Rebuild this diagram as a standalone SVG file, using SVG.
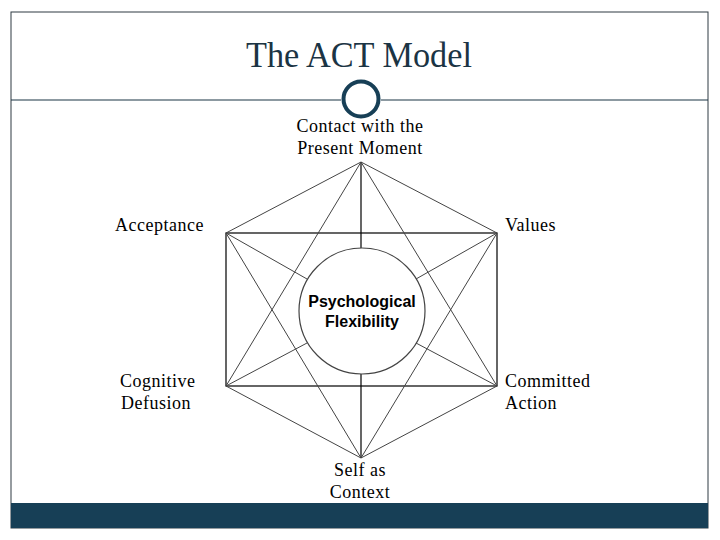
<svg xmlns="http://www.w3.org/2000/svg" width="720" height="540" viewBox="0 0 720 540">
<style>
.lbl{font-family:"Liberation Serif",serif;font-size:18px;letter-spacing:0.5px;fill:#000}
.ctr{text-anchor:middle}
.blk{stroke:#000;stroke-width:1.2;fill:none}
.gry{stroke:#444;stroke-width:1;fill:none}
.pf{font-family:"Liberation Sans",Arial,sans-serif;font-weight:bold;font-size:16px;text-anchor:middle}
</style>
<rect x="0" y="0" width="720" height="540" fill="#fff"/>
<rect x="11" y="12" width="697" height="516" fill="none" stroke="#2e3a42" stroke-width="1"/>
<rect x="11" y="503" width="697" height="25" fill="#173f56"/>
<g id="header">
<text x="359" y="67" text-anchor="middle" font-family="Liberation Serif,serif" font-size="36" fill="#1b3444" textLength="226" lengthAdjust="spacingAndGlyphs">The ACT Model</text>
<line x1="11" y1="100" x2="341" y2="100" stroke="#1b3444" stroke-width="1.2"/>
<line x1="381" y1="100" x2="708" y2="100" stroke="#1b3444" stroke-width="1.2"/>
<circle cx="361" cy="99" r="17.5" fill="#fff" stroke="#173f56" stroke-width="4"/>
</g>
<g id="connectors">
<rect x="226" y="233" width="271" height="153" class="blk"/>
<line x1="361" y1="162" x2="361" y2="249" class="blk"/>
<line x1="361" y1="374" x2="361" y2="458" class="blk"/>
<path d="M361 162 L226 233 M361 162 L497 233 M226 386 L361 458 M497 386 L361 458" class="gry"/>
<path d="M361 162 L226 386 M361 162 L497 386 M361 458 L226 233 M361 458 L497 233" class="gry"/>
<path d="M226 233 L307 279 M497 233 L416 279 M226 386 L307 343 M497 386 L416 343" class="gry"/>
</g>
<g id="center">
<circle cx="362" cy="311" r="63" fill="#fff" stroke="#444" stroke-width="1.2"/>
<text class="pf" x="362" y="307">Psychological</text>
<text class="pf" x="362" y="327">Flexibility</text>
</g>
<g id="contact"><text class="lbl ctr" x="360" y="132">Contact with the</text><text class="lbl ctr" x="360" y="154">Present Moment</text></g>
<g id="acceptance"><text class="lbl" x="115" y="231">Acceptance</text></g>
<g id="values"><text class="lbl" x="505" y="231">Values</text></g>
<g id="defusion"><text class="lbl" x="120" y="387">Cognitive</text><text class="lbl" x="121" y="409">Defusion</text></g>
<g id="committed"><text class="lbl" x="505" y="387">Committed</text><text class="lbl" x="505" y="409">Action</text></g>
<g id="self"><text class="lbl ctr" x="360" y="476">Self as</text><text class="lbl ctr" x="360" y="498">Context</text></g>
</svg>
